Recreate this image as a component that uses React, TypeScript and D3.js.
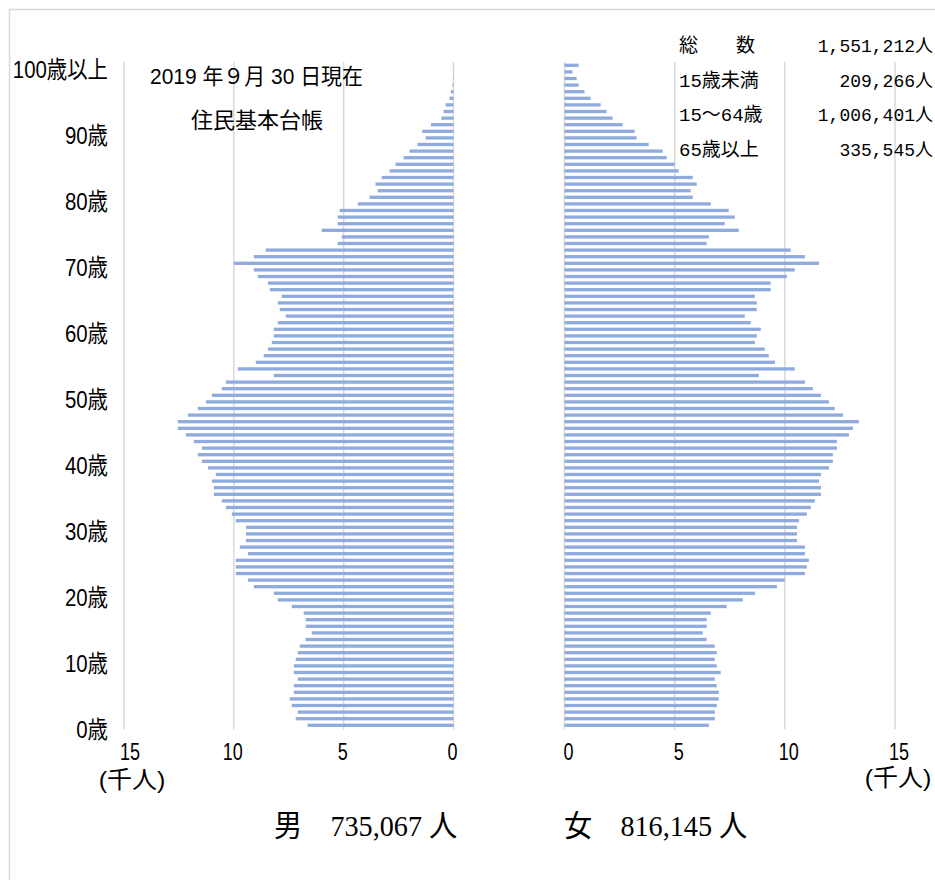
import React from 'react';
import * as d3 from 'd3';

// Ages 0..100 (100 = 100歳以上)
const ages: number[] = Array.from({ length: 101 }, (_, i) => i);

// Population in thousands, index = age
const maleValues: number[] = [
  6.64, 7.18, 7.09, 7.36, 7.45, 7.27, 7.27, 7.09, 7.27, 7.27,
  7.18, 7.09, 7.0, 6.73, 6.45, 6.73, 6.73, 6.82, 7.36, 8.0,
  8.18, 9.09, 9.36, 9.91, 9.91, 9.91, 9.36, 9.73, 9.45, 9.45,
  9.45, 9.91, 10.09, 10.36, 10.55, 10.91, 10.91, 11.0, 10.82, 11.18,
  11.45, 11.64, 11.45, 11.82, 12.18, 12.55, 12.55, 12.09, 11.64, 11.27,
  11.0, 10.55, 10.36, 8.18, 9.82, 9.0, 8.64, 8.45, 8.27, 8.18,
  8.18, 8.0, 7.64, 7.91, 8.0, 7.82, 8.36, 8.45, 8.91, 9.09,
  10.0, 9.09, 8.55, 5.27, 5.09, 6.0, 5.27, 5.27, 5.18, 4.36,
  3.82, 3.45, 3.55, 3.27, 2.91, 2.64, 2.27, 2.0, 1.64, 1.27,
  1.42, 1.03, 0.55, 0.45, 0.36, 0.18, 0.12, 0.04, 0.02, 0.01,
  0.01,
];

const femaleValues: number[] = [
  6.55, 6.82, 6.82, 6.91, 7.0, 7.0, 6.91, 6.82, 7.09, 6.91,
  6.82, 6.91, 6.82, 6.45, 6.27, 6.45, 6.45, 6.64, 7.36, 8.09,
  8.64, 9.64, 10.0, 10.91, 11.0, 11.09, 10.91, 10.91, 10.55, 10.55,
  10.55, 10.64, 11.0, 11.18, 11.36, 11.64, 11.64, 11.55, 11.64, 12.0,
  12.18, 12.18, 12.36, 12.36, 12.91, 13.09, 13.36, 12.64, 12.27, 12.0,
  11.64, 11.27, 10.91, 8.82, 10.45, 9.55, 9.27, 9.09, 8.64, 8.73,
  8.91, 8.45, 8.18, 8.73, 8.73, 8.64, 9.36, 9.36, 10.09, 10.45,
  11.55, 10.91, 10.27, 6.45, 6.55, 7.91, 7.27, 7.73, 7.45, 6.64,
  5.82, 5.73, 6.0, 5.82, 5.18, 5.0, 4.64, 4.45, 3.82, 3.27,
  3.18, 2.64, 2.18, 1.91, 1.64, 1.18, 0.91, 0.64, 0.55, 0.36,
  0.64,
];

const tickValues: number[] = [0, 5, 10, 15];
const ageLabelAges: number[] = [0, 10, 20, 30, 40, 50, 60, 70, 80, 90, 100];
const ageLabelTexts: string[] = ['0歳', '10歳', '20歳', '30歳', '40歳', '50歳', '60歳', '70歳', '80歳', '90歳', '100歳以上'];
const summaryLabels: string[] = ['総　　数', '15歳未満', '15～64歳', '65歳以上'];
const summaryValues: string[] = ['1,551,212人', '209,266人', '1,006,401人', '335,545人'];
const headerLines: string[] = ['2019 年９月 30 日現在', '住民基本台帳'];
const unitLabel = '(千人)';
const maleTotal = '男　735,067 人';
const femaleTotal = '女　816,145 人';

const BAR = '#8faadc';
const GRID = '#d9d9d9';
const SANS = "'Liberation Sans', 'Noto Sans CJK JP', sans-serif";
const SERIF = "'Liberation Serif', 'Noto Sans CJK JP', serif";
const MONO = "'Liberation Mono', 'Noto Sans CJK JP', monospace";

type TProps = {
  x: number; y: number; sx?: number; size: number; anchor?: 'start' | 'middle' | 'end';
  family?: string; children: React.ReactNode; textLength?: number;
};
const T = ({ x, y, sx = 1, size, anchor = 'start', family = SANS, children, textLength }: TProps) => (
  <g transform={`translate(${x},${y}) scale(${sx},1)`}>
    <text
      x={0}
      y={0}
      fontSize={size}
      fontFamily={family}
      textAnchor={anchor}
      dominantBaseline="central"
      fill="#000"
      textLength={textLength}
      lengthAdjust={textLength ? 'spacingAndGlyphs' : undefined}
    >
      {children}
    </text>
  </g>
);

export default function App() {
  const W = 935;
  const H = 880;
  const yTop = 62;
  const yBottom = 728.6;

  const y = d3.scaleBand<number>()
    .domain([...ages].reverse())
    .range([yTop, yBottom])
    .paddingInner(0.5)
    .paddingOuter(0.25);

  const xm = d3.scaleLinear().domain([0, 15]).range([453.5, 124]);
  const xf = d3.scaleLinear().domain([0, 15]).range([564.5, 895]);

  const bw = y.bandwidth();
  const center = (a: number) => (y(a) as number) + bw / 2;

  return (
    <svg
      width={W}
      height={H}
      style={{ position: 'absolute', left: 0, top: 0, background: '#fff' }}
    >
      <rect x={9.5} y={9.5} width={1000} height={1000} fill="#fff" stroke={GRID} strokeWidth={1.5} />

      {/* gridlines */}
      {tickValues.map((t) => (
        <line key={'gm' + t} x1={xm(t)} x2={xm(t)} y1={yTop} y2={yBottom + 1} stroke={GRID} strokeWidth={1.5} />
      ))}
      {tickValues.map((t) => (
        <line key={'gf' + t} x1={xf(t)} x2={xf(t)} y1={yTop} y2={yBottom + 1} stroke={GRID} strokeWidth={1.5} />
      ))}

      {/* male bars */}
      {ages.map((a) => (
        <rect
          key={'m' + a}
          x={xm(maleValues[a])}
          y={y(a) as number}
          width={xm(0) - xm(maleValues[a])}
          height={bw}
          fill={BAR}
        />
      ))}
      {/* female bars */}
      {ages.map((a) => (
        <rect
          key={'f' + a}
          x={xf(0)}
          y={y(a) as number}
          width={xf(femaleValues[a]) - xf(0)}
          height={bw}
          fill={BAR}
        />
      ))}

      {/* age labels */}
      {ageLabelAges.map((a, i) => (
        <T key={'al' + a} x={108} y={center(a) + 4.5} sx={0.85} size={24} anchor="end">
          {ageLabelTexts[i]}
        </T>
      ))}

      {/* tick labels */}
      {tickValues.map((t) => (
        <T key={'tm' + t} x={xm(t) + (t === 15 ? 6 : -1)} y={752} sx={0.75} size={24} anchor="middle">
          {String(t)}
        </T>
      ))}
      {tickValues.map((t) => (
        <T key={'tf' + t} x={xf(t) + 4} y={752} sx={0.75} size={24} anchor="middle">
          {String(t)}
        </T>
      ))}
      <T x={xm(15) + 8} y={780} sx={0.75} size={24} anchor="middle" textLength={89}>{unitLabel}</T>
      <T x={xf(15) + 3} y={778} sx={0.75} size={24} anchor="middle" textLength={89}>{unitLabel}</T>

      {/* header */}
      <T x={150} y={76} size={22} family={SANS} textLength={213}>{headerLines[0]}</T>
      <T x={257} y={120} size={22} family={SANS} anchor="middle">{headerLines[1]}</T>

      {/* summary block */}
      {summaryLabels.map((s, i) => (
        <T key={'sl' + i} x={679} y={47 + i * 34.7} size={19} family={MONO}>{s}</T>
      ))}
      {summaryValues.map((s, i) => (
        <T key={'sv' + i} x={933} y={47 + i * 34.7} size={18} family={MONO} anchor="end">{s}</T>
      ))}

      {/* totals */}
      <T x={274} y={826} sx={0.94} size={30} family={SERIF}>{maleTotal}</T>
      <T x={564} y={826} sx={0.94} size={30} family={SERIF}>{femaleTotal}</T>
    </svg>
  );
}
